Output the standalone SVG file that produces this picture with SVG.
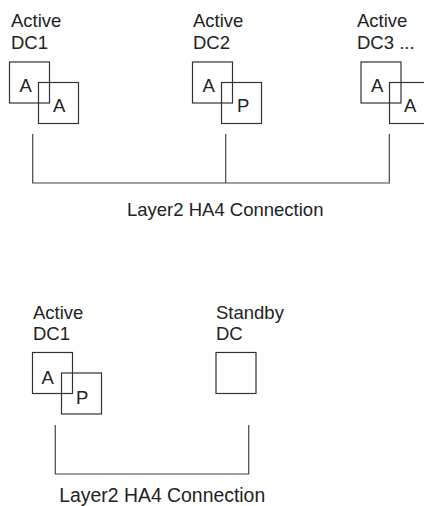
<svg xmlns="http://www.w3.org/2000/svg" width="424" height="506" viewBox="0 0 424 506">
<style>
text{font-family:"Liberation Sans",Arial,sans-serif;font-size:18.5px;fill:#222}
.big{font-size:19.4px}
.box{fill:none;stroke:#333;stroke-width:1.2}
.ln{fill:none;stroke:#444;stroke-width:1.2}
</style>
<rect width="424" height="506" fill="#fff"/>
<g id="dc1-top">
<text x="11" y="27">Active</text>
<text x="11" y="49">DC1</text>
<rect class="box" x="9.5" y="62" width="40" height="41"/>
<rect class="box" x="38.5" y="82.5" width="40" height="41"/>
<text x="19.5" y="92">A</text>
<text x="53" y="112">A</text>
</g>
<g id="dc2-top">
<text x="193" y="27">Active</text>
<text x="193" y="49">DC2</text>
<rect class="box" x="192.5" y="62" width="40" height="41"/>
<rect class="box" x="221.5" y="82.5" width="40" height="41"/>
<text x="202.5" y="92">A</text>
<text x="237" y="112">P</text>
</g>
<g id="dc3-top">
<text x="357" y="27">Active</text>
<text x="357" y="49">DC3 ...</text>
<rect class="box" x="361" y="62" width="40" height="41"/>
<rect class="box" x="389.5" y="82.5" width="40" height="41"/>
<text x="371" y="92">A</text>
<text x="404" y="112">A</text>
</g>
<g id="dc1-bottom">
<text x="33" y="319">Active</text>
<text x="33" y="340">DC1</text>
<rect class="box" x="32.5" y="352.5" width="40" height="41"/>
<rect class="box" x="61.5" y="373" width="40" height="41"/>
<text x="41.5" y="384">A</text>
<text x="76" y="404">P</text>
</g>
<g id="standby-dc">
<text x="216" y="319">Standby</text>
<text x="216" y="340">DC</text>
<rect class="box" x="216" y="352.5" width="40" height="41"/>
</g>
<g id="connectors">
<polyline class="ln" points="32.7,134 32.7,183 389.3,183 389.3,134"/>
<line class="ln" x1="225.7" y1="134" x2="225.7" y2="183"/>
<polyline class="ln" points="55.3,425 55.3,474 248.7,474 248.7,425"/>
<text x="127" y="216">Layer2 HA4 Connection</text>
<text class="big" x="59.3" y="501.5">Layer2 HA4 Connection</text>
</g>
</svg>
